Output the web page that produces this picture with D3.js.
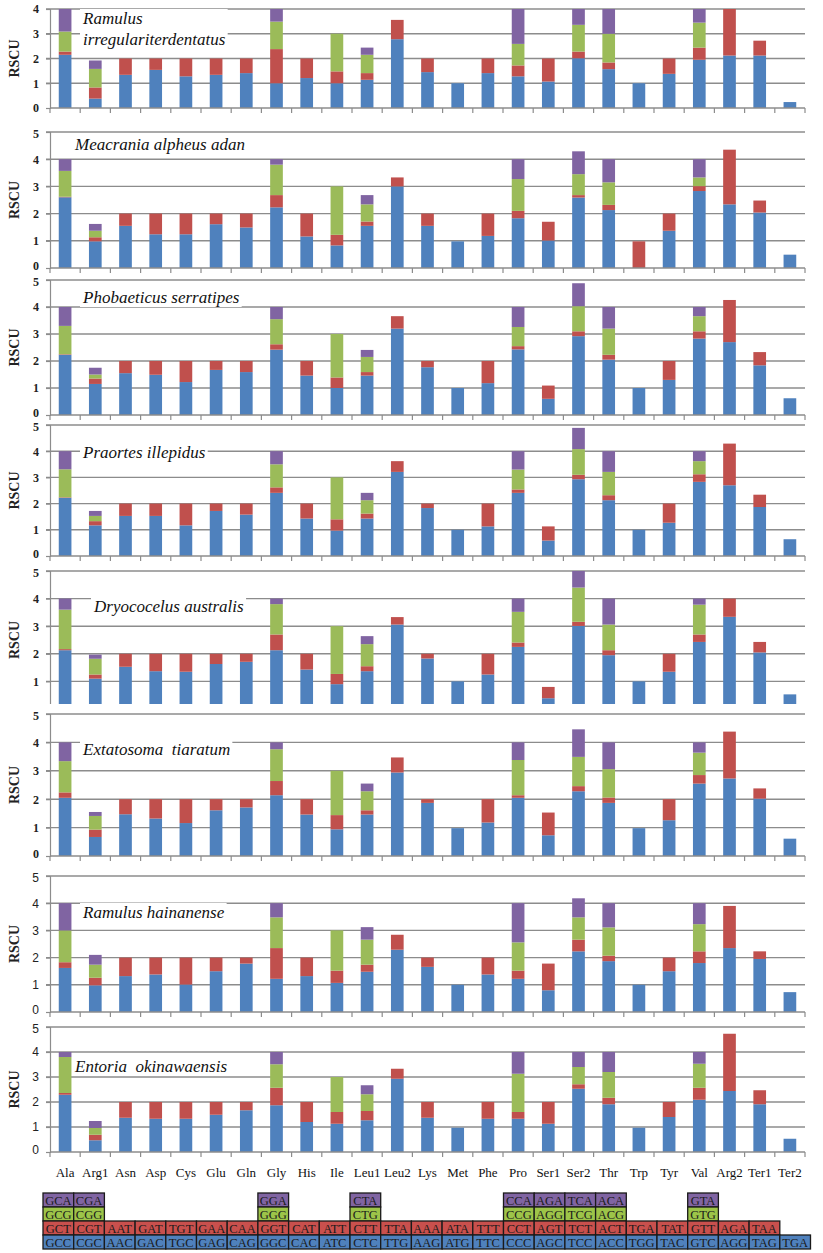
<!DOCTYPE html>
<html>
<head>
<meta charset="utf-8">
<script src="https://cdn.jsdelivr.net/npm/d3@7"></script>
<style>
  body { margin: 0; background: #fff; }
  svg { display: block; }
</style>
</head>
<body>
<div id="chart"></div>
<script>
// amino acid groups on the x axis
var categories = ['Ala','Arg1','Asn','Asp','Cys','Glu','Gln','Gly','His','Ile','Leu1','Leu2','Lys',
  'Met','Phe','Pro','Ser1','Ser2','Thr','Trp','Tyr','Val','Arg2','Ter1','Ter2'];

var species = ['Ramulus irregulariterdentatus','Meacrania alpheus adan','Phobaeticus serratipes',
  'Praortes illepidus','Dryococelus australis','Extatosoma  tiaratum','Ramulus hainanense','Entoria  okinawaensis'];

// RSCU per codon, one row per species (stack order: blue, red, green, purple)
var rscuBlue = [
  [2.15,0.38,1.34,1.54,1.28,1.34,1.41,1.00,1.21,1.00,1.14,2.78,1.45,1.00,1.41,1.28,1.07,2.01,1.57,1.00,1.38,1.95,2.12,2.12,0.24],
  [2.60,0.98,1.55,1.24,1.24,1.61,1.49,2.23,1.16,0.83,1.55,3.00,1.55,0.98,1.18,1.83,1.01,2.59,2.13,0.00,1.37,2.83,2.34,2.04,0.49],
  [2.23,1.15,1.55,1.49,1.22,1.67,1.59,2.42,1.46,1.00,1.46,3.20,1.77,1.00,1.18,2.43,0.60,2.92,2.05,1.00,1.30,2.83,2.70,1.84,0.62],
  [2.22,1.17,1.53,1.53,1.17,1.72,1.58,2.41,1.43,0.97,1.43,3.21,1.83,1.00,1.13,2.41,0.59,2.93,2.13,1.00,1.27,2.83,2.70,1.87,0.64],
  [2.13,1.10,1.53,1.37,1.35,1.63,1.71,2.13,1.43,0.90,1.37,3.06,1.83,1.00,1.25,2.25,0.39,3.01,1.95,1.00,1.35,2.43,3.34,2.05,0.53],
  [2.05,0.67,1.47,1.32,1.16,1.61,1.71,2.14,1.46,0.94,1.46,2.94,1.87,0.98,1.18,2.05,0.73,2.28,1.87,0.98,1.26,2.55,2.73,2.02,0.61],
  [1.62,0.98,1.32,1.38,1.01,1.50,1.78,1.22,1.32,1.07,1.48,2.29,1.66,1.00,1.38,1.22,0.80,2.23,1.87,1.00,1.50,1.80,2.35,1.95,0.73],
  [2.29,0.47,1.37,1.33,1.33,1.49,1.67,1.87,1.20,1.13,1.27,2.93,1.37,0.97,1.33,1.33,1.13,2.53,1.91,0.97,1.40,2.09,2.44,1.91,0.53]
];
var rscuRed = [
  [0.13,0.45,0.66,0.46,0.72,0.66,0.59,1.38,0.79,0.48,0.27,0.78,0.55,0,0.59,0.44,0.93,0.27,0.27,0,0.62,0.49,1.88,0.60,0],
  [0.02,0.15,0.45,0.76,0.76,0.39,0.51,0.45,0.84,0.39,0.16,0.33,0.45,0,0.82,0.27,0.69,0.09,0.19,0.98,0.63,0.18,2.01,0.44,0],
  [0.02,0.20,0.45,0.51,0.78,0.33,0.41,0.20,0.54,0.39,0.13,0.46,0.23,0,0.82,0.12,0.49,0.18,0.18,0,0.70,0.27,1.56,0.49,0],
  [0.02,0.16,0.47,0.47,0.83,0.28,0.42,0.21,0.57,0.43,0.19,0.41,0.17,0,0.87,0.13,0.54,0.17,0.19,0,0.73,0.29,1.59,0.47,0],
  [0.04,0.15,0.47,0.63,0.65,0.37,0.29,0.57,0.57,0.37,0.18,0.27,0.17,0,0.75,0.16,0.41,0.15,0.18,0,0.65,0.27,0.66,0.38,0],
  [0.19,0.26,0.53,0.68,0.84,0.39,0.29,0.50,0.54,0.50,0.15,0.53,0.13,0,0.82,0.09,0.80,0.18,0.19,0,0.74,0.30,1.65,0.36,0],
  [0.21,0.28,0.68,0.62,0.99,0.50,0.22,1.13,0.68,0.45,0.26,0.55,0.34,0,0.62,0.30,0.98,0.43,0.20,0,0.50,0.43,1.55,0.28,0],
  [0.07,0.22,0.63,0.67,0.67,0.51,0.33,0.70,0.80,0.47,0.37,0.40,0.63,0,0.67,0.27,0.87,0.18,0.26,0,0.60,0.48,2.29,0.56,0]
];
var rscuGreen = [
  [0.81,0.75,0,0,0,0,0,1.11,0,1.52,0.74,0,0,0,0,0.87,0,1.08,1.16,0,0,1.01,0,0,0],
  [0.95,0.24,0,0,0,0,0,1.12,0,1.78,0.63,0,0,0,0,1.17,0,0.77,0.83,0,0,0.32,0,0,0],
  [1.05,0.15,0,0,0,0,0,0.93,0,1.61,0.56,0,0,0,0,0.71,0,0.93,0.97,0,0,0.56,0,0,0],
  [1.07,0.20,0,0,0,0,0,0.88,0,1.60,0.51,0,0,0,0,0.76,0,0.98,0.89,0,0,0.50,0,0,0],
  [1.43,0.57,0,0,0,0,0,1.10,0,1.73,0.80,0,0,0,0,1.11,0,1.24,0.93,0,0,1.08,0,0,0],
  [1.10,0.48,0,0,0,0,0,1.12,0,1.56,0.67,0,0,0,0,1.24,0,1.03,1.00,0,0,0.79,0,0,0],
  [1.17,0.48,0,0,0,0,0,1.13,0,1.48,0.92,0,0,0,0,1.04,0,0.82,1.04,0,0,1.00,0,0,0],
  [1.44,0.27,0,0,0,0,0,0.94,0,1.40,0.67,0,0,0,0,1.53,0,0.69,1.03,0,0,0.96,0,0,0]
];
var rscuPurple = [
  [0.91,0.34,0,0,0,0,0,0.51,0,0,0.29,0,0,0,0,1.41,0,0.64,1.00,0,0,0.55,0,0,0],
  [0.43,0.25,0,0,0,0,0,0.20,0,0,0.34,0,0,0,0,0.73,0,0.84,0.85,0,0,0.67,0,0,0],
  [0.70,0.25,0,0,0,0,0,0.45,0,0,0.26,0,0,0,0,0.74,0,0.85,0.80,0,0,0.34,0,0,0],
  [0.69,0.19,0,0,0,0,0,0.50,0,0,0.28,0,0,0,0,0.70,0,0.81,0.79,0,0,0.38,0,0,0],
  [0.40,0.15,0,0,0,0,0,0.20,0,0,0.29,0,0,0,0,0.48,0,0.60,0.94,0,0,0.22,0,0,0],
  [0.66,0.14,0,0,0,0,0,0.24,0,0,0.27,0,0,0,0,0.62,0,0.97,0.94,0,0,0.36,0,0,0],
  [1.00,0.36,0,0,0,0,0,0.52,0,0,0.46,0,0,0,0,1.44,0,0.70,0.89,0,0,0.77,0,0,0],
  [0.20,0.28,0,0,0,0,0,0.49,0,0,0.36,0,0,0,0,0.87,0,0.60,0.80,0,0,0.47,0,0,0]
];

// codon table below the chart ('' = empty cell)
var codonPurple = ['GCA','CGA','','','','','','GGA','','','CTA','','','','','CCA','AGA','TCA','ACA','','','GTA','','',''];
var codonGreen  = ['GCG','CGG','','','','','','GGG','','','CTG','','','','','CCG','AGG','TCG','ACG','','','GTG','','',''];
var codonRed    = ['GCT','CGT','AAT','GAT','TGT','GAA','CAA','GGT','CAT','ATT','CTT','TTA','AAA','ATA','TTT',
  'CCT','AGT','TCT','ACT','TGA','TAT','GTT','AGA','TAA',''];
var codonBlue   = ['GCC','CGC','AAC','GAC','TGC','GAG','CAG','GGC','CAC','ATC','CTC','TTG','AAG','ATG','TTC',
  'CCC','AGC','TCC','ACC','TGG','TAC','GTC','AGG','TAG','TGA'];

var keys = ['blue','red','green','purple'];
var colors = {blue: '#4f81bd', red: '#c0504d', green: '#9bbb59', purple: '#8064a2'};
var tableColors = {blue: '#4f81bd', red: '#c9504d', green: '#9dc449', purple: '#8064a2'};

// panel placement on the page (clip = bottom edge where the next panel covers this one)
var panels = [
  {max: 4, top: 9,    zero: 108,  lx: 83, ly: [24, 45], wrap: true},
  {max: 5, top: 132,  zero: 268,  lx: 75, ly: [150], clip: 276},
  {max: 5, top: 280,  zero: 415,  lx: 83, ly: [303], clip: 423},
  {max: 5, top: 425,  zero: 556,  lx: 83, ly: [458]},
  {max: 5, top: 571,  zero: 709,  lx: 94, ly: [612], clip: 704, noZero: true},
  {max: 5, top: 714,  zero: 856,  lx: 83, ly: [755]},
  {max: 5, top: 876,  zero: 1012, lx: 83, ly: [918], sans: true},
  {max: 5, top: 1027, zero: 1152, lx: 75, ly: [1072], sans: true}
];

var WIDTH = 823, HEIGHT = 1253;
var left = 50, right = 805;
var serif = '"Liberation Serif", "DejaVu Serif", "Times New Roman", serif';
var sans = '"Liberation Sans", Arial, sans-serif';

var svg = d3.select('#chart').append('svg')
  .attr('width', WIDTH)
  .attr('height', HEIGHT);

svg.append('rect').attr('width', WIDTH).attr('height', HEIGHT).attr('fill', '#fff');

var x = d3.scaleBand().domain(categories).range([left, right]).paddingInner(0.58).paddingOuter(0.29);
var step = x.step();
var stack = d3.stack().keys(keys);

panels.forEach(function(p, i) {
  var rows = categories.map(function(c, j) {
    return {cat: c, blue: rscuBlue[i][j], red: rscuRed[i][j], green: rscuGreen[i][j], purple: rscuPurple[i][j]};
  });
  var y = d3.scaleLinear().domain([0, p.max]).range([p.zero, p.top]);

  var g = svg.append('g');
  if (p.clip) {
    svg.append('clipPath').attr('id', 'clip' + i)
      .append('rect').attr('x', 0).attr('y', p.top - 20).attr('width', WIDTH).attr('height', p.clip - p.top + 20);
    g.attr('clip-path', 'url(#clip' + i + ')');
  }

  // gridlines
  g.selectAll('.grid')
    .data(d3.range(1, p.max + 1))
    .join('line')
    .attr('x1', left - 4).attr('x2', right)
    .attr('y1', function(d) { return y(d); })
    .attr('y2', function(d) { return y(d); })
    .attr('stroke', '#8c8c8c')
    .attr('stroke-width', 1.4);

  // y axis
  var ticks = d3.range(p.noZero ? 1 : 0, p.max + 1);
  var yAxis = g.append('g')
    .attr('transform', 'translate(' + left + ',0)')
    .call(d3.axisLeft(y).tickValues(ticks).tickSize(4).tickPadding(7).tickFormat(d3.format('d')));
  yAxis.selectAll('path, line').attr('stroke', '#8c8c8c').attr('stroke-width', 1.2);
  yAxis.selectAll('text')
    .attr('fill', '#222')
    .attr('y', function(d) { return d === 0 && i > 0 ? -2 : (d === 5 ? 1.5 : 0); })
    .style('font-family', p.sans ? sans : serif)
    .style('font-size', '12px')
    .style('font-weight', p.sans ? 'normal' : 'bold');

  // bars
  g.selectAll('.series')
    .data(stack(rows))
    .join('g')
    .attr('fill', function(d) { return colors[d.key]; })
    .selectAll('rect')
    .data(function(d) { return d; })
    .join('rect')
    .attr('x', function(d) { return x(d.data.cat); })
    .attr('width', x.bandwidth())
    .attr('y', function(d) { return y(d[1]); })
    .attr('height', function(d) { return Math.max(0, y(d[0]) - y(d[1])); });

  // x axis with ticks at the band edges
  g.append('line')
    .attr('x1', left).attr('x2', right)
    .attr('y1', p.zero).attr('y2', p.zero)
    .attr('stroke', '#8c8c8c').attr('stroke-width', 1.4);
  g.selectAll('.xtick')
    .data(d3.range(categories.length + 1))
    .join('line')
    .attr('x1', function(d) { return left + d * step; })
    .attr('x2', function(d) { return left + d * step; })
    .attr('y1', p.zero).attr('y2', p.zero + 5)
    .attr('stroke', '#8c8c8c').attr('stroke-width', 1.2);

  // axis title
  svg.append('text')
    .attr('transform', 'translate(19,' + ((p.top + p.zero) / 2) + ') rotate(-90)')
    .attr('text-anchor', 'middle')
    .style('font-family', serif)
    .style('font-size', '14px')
    .style('font-weight', 'bold')
    .attr('fill', '#222')
    .text('RSCU');

  // species name in italics
  var lines = p.wrap ? [species[i].split(' ')[0], species[i].split(' ').slice(1).join(' ')] : [species[i]];
  var lab = svg.append('g');
  var bg = lab.append('rect').attr('fill', '#fff');
  lines.forEach(function(t, k) {
    lab.append('text')
      .attr('x', p.lx).attr('y', p.ly[k])
      .attr('fill', '#111')
      .style('font-family', serif)
      .style('font-style', 'italic')
      .style('font-size', '17px')
      .style('white-space', 'pre')
      .attr('xml:space', 'preserve')
      .text(t);
  });
  var bb = lab.node().getBBox();
  bg.attr('x', bb.x - 2).attr('y', bb.y).attr('width', bb.width + 4).attr('height', bb.height);
});

// category labels under the last panel
svg.append('g')
  .selectAll('text')
  .data(categories)
  .join('text')
  .attr('x', function(d) { return x(d) + x.bandwidth() / 2; })
  .attr('y', 1177)
  .attr('text-anchor', 'middle')
  .attr('fill', '#111')
  .style('font-family', serif)
  .style('font-size', '13px')
  .text(function(d) { return d; });

// codon table
var cellW = 30.7, cellH = 14, tableX = 43;
var tableRows = [
  {key: 'purple', codons: codonPurple, y: 1193},
  {key: 'green', codons: codonGreen, y: 1207},
  {key: 'red', codons: codonRed, y: 1221},
  {key: 'blue', codons: codonBlue, y: 1235}
];
var table = svg.append('g');
tableRows.forEach(function(r) {
  var cells = table.append('g').selectAll('g')
    .data(r.codons.map(function(c, j) { return {c: c, j: j}; }).filter(function(d) { return d.c !== ''; }))
    .join('g')
    .attr('transform', function(d) { return 'translate(' + (tableX + d.j * cellW) + ',' + r.y + ')'; });
  cells.append('rect')
    .attr('width', cellW).attr('height', cellH)
    .attr('fill', tableColors[r.key])
    .attr('stroke', '#1a1a1a').attr('stroke-width', 1.3);
  cells.append('text')
    .attr('x', cellW / 2).attr('y', cellH / 2 + 4.5)
    .attr('text-anchor', 'middle')
    .attr('fill', '#1a1a1a')
    .style('font-family', serif)
    .style('font-size', '12.5px')
    .text(function(d) { return d.c; });
});
</script>
</body>
</html>
